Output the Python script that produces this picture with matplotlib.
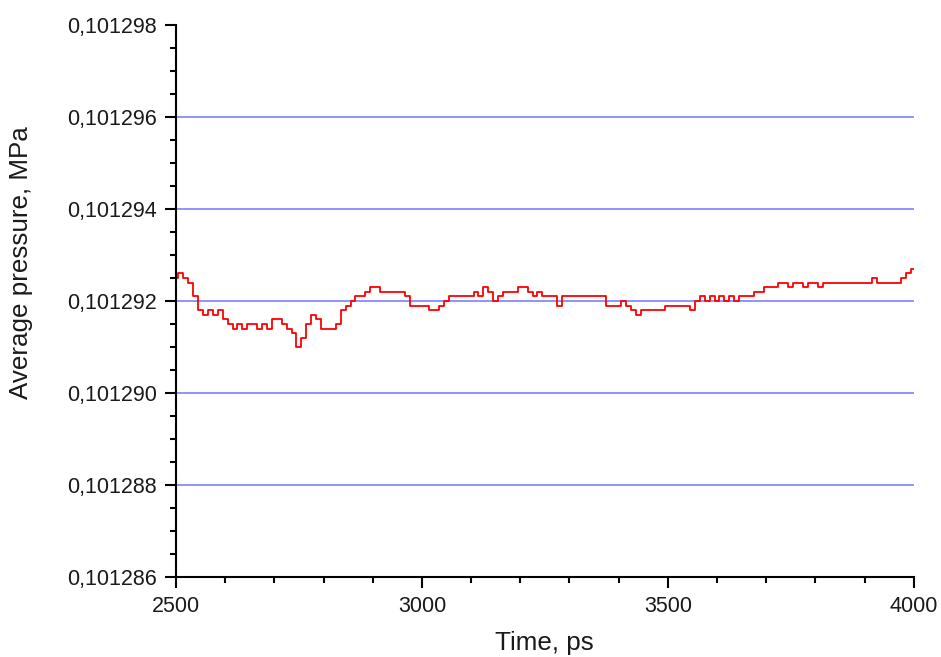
import numpy as np
import matplotlib.pyplot as plt
from matplotlib.ticker import MultipleLocator, FuncFormatter

plt.rcParams['font.family'] = ['Liberation Sans', 'DejaVu Sans']

# time, ps (10 ps step)
time_ps = np.arange(2500, 4001, 10)

# pressure readings, in units of 1e-7 MPa above 0.101290 MPa
pressure_steps = [
    25, 26, 25, 24, 21, 18, 17, 18, 17, 18,
    16, 15, 14, 15, 14, 15, 15, 14, 15, 14,
    16, 16, 15, 14, 13, 10, 12, 15, 17, 16,
    14, 14, 14, 15, 18, 19, 20, 21, 21, 22,
    23, 23, 22, 22, 22, 22, 22, 21, 19, 19,
    19, 19, 18, 18, 19, 20, 21, 21, 21, 21,
    21, 22, 21, 23, 22, 20, 21, 22, 22, 22,
    23, 23, 22, 21, 22, 21, 21, 21, 19, 21,
    21, 21, 21, 21, 21, 21, 21, 21, 19, 19,
    19, 20, 19, 18, 17, 18, 18, 18, 18, 18,
    19, 19, 19, 19, 19, 18, 20, 21, 20, 21,
    20, 21, 20, 21, 20, 21, 21, 21, 22, 22,
    23, 23, 23, 24, 24, 23, 24, 24, 23, 24,
    24, 23, 24, 24, 24, 24, 24, 24, 24, 24,
    24, 24, 25, 24, 24, 24, 24, 24, 25, 26,
    27,
]
pressure = 0.101290 + np.array(pressure_steps) * 1e-7

y_min, y_max = 0.101286, 0.101298

fig = plt.figure(figsize=(9.41, 6.57), dpi=100)
ax = fig.add_axes([0.187, 0.1218, 0.784, 0.840])

# horizontal grid only at the inner major ticks
for level in np.arange(y_min, y_max, 2e-6)[1:]:
    ax.axhline(level, color='#7474ff', linewidth=1.1, zorder=0)

ax.plot(time_ps, pressure, color='red', linewidth=1.3, drawstyle='steps-mid')

ax.set_xlim(2500, 4000)
ax.set_ylim(y_min, y_max)
ax.xaxis.set_major_locator(MultipleLocator(500))
ax.xaxis.set_minor_locator(MultipleLocator(100))
ax.yaxis.set_major_locator(MultipleLocator(2e-6))
ax.yaxis.set_minor_locator(MultipleLocator(5e-7))
ax.yaxis.set_major_formatter(FuncFormatter(lambda v, p: f"{v:.6f}".replace('.', ',')))

for side in ['top', 'right']:
    ax.spines[side].set_visible(False)
for side in ['left', 'bottom']:
    ax.spines[side].set_linewidth(1.5)

ax.tick_params(which='major', direction='out', length=8, width=1.5,
               labelsize=15.5, labelcolor='#1a1a1a', pad=6)
ax.tick_params(which='minor', direction='out', length=4.5, width=1.5)

ax.set_xlabel('Time, ps', fontsize=18.7, color='#1a1a1a', labelpad=10)
ax.set_ylabel('Average pressure, MPa', fontsize=18.7, color='#1a1a1a')
ax.yaxis.set_label_coords(-0.194, 0.569)

fig.savefig('out.png', dpi=100)
